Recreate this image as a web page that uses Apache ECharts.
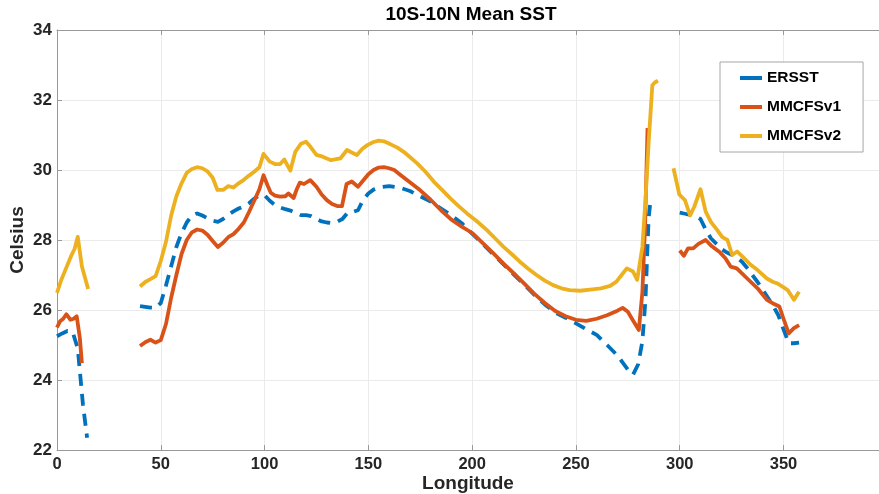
<!DOCTYPE html>
<html>
<head>
<meta charset="utf-8">
<script src="https://cdn.jsdelivr.net/npm/echarts@6/dist/echarts.min.js"></script>
<style>
    html, body { margin: 0; padding: 0; background: #fff; }
    #chart { width: 879px; height: 494px; }
</style>
</head>
<body>
<div id="chart"></div>
<script>
// [longitude, celsius]; a null value breaks the line
var ersst = [
    [0, 25.25], [2.5, 25.33], [5, 25.4], [7.5, 25.38], [10, 24.9], [12.5, 23.3], [14.5, 22.35],
    [27, null],
    [40, 26.11], [42.5, 26.09], [45, 26.07], [47.5, 26.06], [50, 26.2], [52.5, 26.7], [55, 27.25],
    [57.5, 27.8], [60, 28.2], [62.5, 28.5], [65, 28.7], [67.5, 28.76], [70, 28.7], [72.5, 28.62],
    [75, 28.55], [77.5, 28.52], [80, 28.6], [82.5, 28.72], [85, 28.82], [87.5, 28.9], [90, 28.96],
    [92.5, 29.05], [95, 29.18], [97.5, 29.27], [100, 29.28], [102.5, 29.12], [105, 29.0],
    [107.5, 28.93], [110, 28.88], [112.5, 28.84], [115, 28.78], [117.5, 28.71], [120, 28.71],
    [122.5, 28.68], [125, 28.6], [127.5, 28.53], [130, 28.5], [132.5, 28.48], [135, 28.52],
    [137.5, 28.6], [140, 28.78], [142.5, 28.8], [145, 28.85], [147.5, 29.15], [150, 29.33],
    [152.5, 29.44], [155, 29.5], [160, 29.54], [165, 29.5], [170, 29.4], [175, 29.25], [180, 29.1],
    [185, 28.9], [190, 28.7], [195, 28.48], [200, 28.18], [205, 27.9], [210, 27.6], [215, 27.31],
    [220, 27.02], [225, 26.73], [230, 26.43], [235, 26.16], [240, 25.93], [245, 25.78], [250, 25.62],
    [255, 25.45], [260, 25.29], [265, 25.0], [270, 24.7], [275, 24.3], [277.5, 24.15], [280, 24.45],
    [282, 25.1], [283.5, 26.3], [285, 28.6], [285.7, 29.0],
    [292, null],
    [300, 28.78], [302.5, 28.75], [305, 28.72], [307.5, 28.68], [310, 28.6], [312.5, 28.3],
    [315, 28.05], [317.5, 27.9], [320, 27.75], [322.5, 27.65], [325, 27.58], [327.5, 27.5],
    [330, 27.38], [332.5, 27.2], [335, 27.0], [337.5, 26.8], [340, 26.58], [342.5, 26.35],
    [345, 26.12], [347.5, 25.85], [350, 25.45], [352.5, 25.05], [355, 25.05], [357.5, 25.07]
];

var mmcfsv1 = [
    [0, 25.5], [1.5, 25.68], [3, 25.75], [4.5, 25.88], [6.5, 25.72], [8, 25.75], [9.5, 25.82],
    [11, 25.2], [12, 24.48],
    [27, null],
    [40, 24.97], [42.5, 25.08], [45, 25.15], [47.5, 25.07], [50, 25.14], [52.5, 25.6], [55, 26.35],
    [57.5, 27.0], [60, 27.6], [62.5, 28.0], [65, 28.22], [67.5, 28.3], [70, 28.27], [72.5, 28.15],
    [75, 27.97], [77.5, 27.8], [80, 27.92], [82.5, 28.08], [85, 28.17], [87.5, 28.32], [90, 28.5],
    [92.5, 28.8], [95, 29.12], [97.5, 29.45], [99.5, 29.85], [101.5, 29.55], [103, 29.35],
    [105, 29.27], [107.5, 29.24], [110, 29.25], [111.5, 29.33], [114, 29.2], [115.5, 29.45],
    [117, 29.64], [119, 29.6], [122, 29.71], [125, 29.52], [127.5, 29.3], [130, 29.14],
    [132.5, 29.03], [135, 28.97], [137.3, 28.97], [139.5, 29.6], [142, 29.67], [145, 29.52],
    [147.5, 29.7], [150, 29.88], [152.5, 30.0], [155, 30.07], [157.5, 30.08], [160, 30.05],
    [162.5, 30.0], [165, 29.88], [170, 29.65], [175, 29.42], [180, 29.15], [185, 28.85],
    [190, 28.58], [195, 28.38], [200, 28.2], [205, 27.92], [210, 27.63], [215, 27.33], [220, 27.05],
    [225, 26.76], [230, 26.46], [235, 26.2], [240, 25.97], [245, 25.82], [250, 25.72], [255, 25.69],
    [260, 25.75], [265, 25.85], [270, 25.98], [272.5, 26.06], [275, 25.95], [277.5, 25.7],
    [280.3, 25.43], [282, 26.5], [283.3, 28.4], [284.5, 31.2],
    [292, null],
    [300, 27.7], [302, 27.55], [304, 27.76], [306.5, 27.76], [309, 27.89], [312.5, 28.0],
    [315.5, 27.82], [319.5, 27.64], [322, 27.48], [324.5, 27.24], [327.5, 27.19], [332.5, 26.9],
    [337.5, 26.62], [342, 26.29], [345.5, 26.17], [348, 26.1], [350, 25.75], [352.5, 25.33],
    [355, 25.48], [357.5, 25.57]
];

var mmcfsv2 = [
    [0, 26.49], [2, 26.85], [4, 27.14], [7, 27.57], [8.5, 27.75], [10, 28.09], [12, 27.24], [15, 26.6],
    [27, null],
    [40, 26.67], [42.5, 26.8], [45, 26.88], [47.5, 26.97], [50, 27.4], [52.5, 27.95], [55, 28.7],
    [57.5, 29.25], [60, 29.62], [62.5, 29.92], [65, 30.03], [67.5, 30.08], [70, 30.05], [72.5, 29.96],
    [75, 29.78], [77.3, 29.43], [80, 29.43], [82.5, 29.54], [85, 29.5], [87.5, 29.62], [90, 29.72],
    [92.5, 29.84], [95, 29.95], [97.5, 30.08], [99.5, 30.46], [102.5, 30.24], [105, 30.17],
    [107.5, 30.17], [109.5, 30.3], [112.4, 29.98], [114.8, 30.52], [117.5, 30.75], [120, 30.81],
    [122, 30.67], [125, 30.43], [128, 30.38], [132, 30.28], [136.5, 30.33], [139.7, 30.57],
    [142, 30.5], [144.5, 30.43], [147, 30.6], [149.5, 30.71], [152.5, 30.8], [155, 30.84],
    [157.5, 30.82], [160.5, 30.74], [164, 30.64], [167, 30.52], [170, 30.37], [173.5, 30.19],
    [177.5, 29.95], [181.5, 29.67], [185.5, 29.43], [189.5, 29.19], [193.5, 28.97], [197.5, 28.76],
    [202, 28.55], [207, 28.29], [211, 28.05], [215, 27.81], [219, 27.6], [223, 27.38], [227, 27.18],
    [231, 27.0], [235, 26.84], [239, 26.71], [243, 26.62], [247, 26.57], [252, 26.55], [258, 26.59],
    [262, 26.62], [266.5, 26.69], [269.5, 26.81], [272, 27.0], [274.5, 27.19], [277.5, 27.1],
    [279.5, 26.86], [282, 27.8], [283.5, 29.14], [285, 30.76], [286.8, 32.42], [288, 32.5],
    [289.5, 32.55],
    [293, null],
    [297, 30.05], [299.8, 29.3], [302.5, 29.14], [305, 28.7], [307, 28.95], [310, 29.45],
    [312.5, 28.81], [315, 28.52], [318, 28.29], [320.5, 28.08], [323, 28.0], [325.3, 27.57],
    [327.7, 27.67], [331, 27.48], [334, 27.3], [337.5, 27.14], [342, 26.9], [345, 26.8],
    [347, 26.76], [349.5, 26.67], [352, 26.57], [355, 26.29], [357.5, 26.52]
];

var seriesNames = ['ERSST', 'MMCFSv1', 'MMCFSv2'];
var seriesColors = ['#0072BD', '#D95319', '#EDB120'];

var chartDom = document.getElementById('chart');
var myChart = echarts.init(chartDom);
var font = '"Liberation Sans", Arial, Helvetica, sans-serif';

function makeSeries(i, data, dashed) {
    return {
        name: seriesNames[i],
        type: 'line',
        data: data,
        showSymbol: false,
        symbol: 'none',
        connectNulls: false,
        itemStyle: { color: seriesColors[i] },
        lineStyle: {
            color: seriesColors[i],
            width: 3.8,
            type: dashed ? [12, 8] : 'solid',
            join: 'round'
        }
    };
}

var option = {
    animation: false,
    backgroundColor: '#ffffff',
    textStyle: { fontFamily: font },
    graphic: [{
        type: 'text',
        x: 471,
        y: 15,
        style: {
            text: '10S-10N Mean SST',
            font: 'bold 19px ' + font,
            fill: '#000',
            align: 'center',
            verticalAlign: 'middle'
        }
    }],
    legend: {
        orient: 'vertical',
        left: 720,
        top: 62,
        padding: [8, 22, 8, 20],
        itemWidth: 22,
        itemHeight: 14,
        itemGap: 13,
        itemTextGap: 3,
        icon: 'path://M0,0 H22 V4 H0 Z',
        backgroundColor: '#fff',
        borderColor: '#a6a6a6',
        borderWidth: 1,
        borderRadius: 0,
        textStyle: { fontSize: 15.5, fontWeight: 'bold', color: '#000', fontFamily: font },
        data: seriesNames
    },
    grid: {
        left: 57,
        right: 0,
        top: 30,
        bottom: 44,
        containLabel: false,
        outerBoundsMode: 'none'
    },
    xAxis: [{
        type: 'value',
        min: 0,
        max: 396,
        interval: 50,
        name: 'Longitude',
        nameLocation: 'middle',
        nameGap: 24,
        nameMoveOverlap: false,
        nameTextStyle: { fontSize: 19, fontWeight: 'bold', color: '#262626', fontFamily: font },
        axisLine: { show: true, lineStyle: { color: '#999', width: 1 } },
        axisTick: { show: true, inside: true, length: 5, lineStyle: { color: '#999' } },
        axisLabel: {
            fontSize: 16.5, fontWeight: 'bold', color: '#262626', margin: 6, fontFamily: font,
            showMaxLabel: false
        },
        splitLine: { show: true, lineStyle: { color: '#ebebeb', width: 1 } }
    }, {
        type: 'value',
        position: 'top',
        min: 0,
        max: 396,
        interval: 50,
        axisLine: { show: true, lineStyle: { color: '#999', width: 1 } },
        axisTick: { show: true, inside: true, length: 5, lineStyle: { color: '#999' } },
        axisLabel: { show: false },
        splitLine: { show: false }
    }],
    yAxis: {
        type: 'value',
        min: 22,
        max: 34,
        interval: 2,
        name: 'Celsius',
        nameLocation: 'middle',
        nameGap: 30,
        nameMoveOverlap: false,
        nameTextStyle: { fontSize: 19, fontWeight: 'bold', color: '#262626', fontFamily: font },
        axisLine: { show: true, lineStyle: { color: '#999', width: 1 } },
        axisTick: { show: true, inside: true, length: 5, lineStyle: { color: '#999' } },
        axisLabel: { fontSize: 17, fontWeight: 'bold', color: '#262626', margin: 5, fontFamily: font },
        splitLine: { show: true, lineStyle: { color: '#ebebeb', width: 1 } }
    },
    series: [
        makeSeries(0, ersst, true),
        makeSeries(1, mmcfsv1, false),
        makeSeries(2, mmcfsv2, false)
    ]
};
option && myChart.setOption(option);
</script>
</body>
</html>
